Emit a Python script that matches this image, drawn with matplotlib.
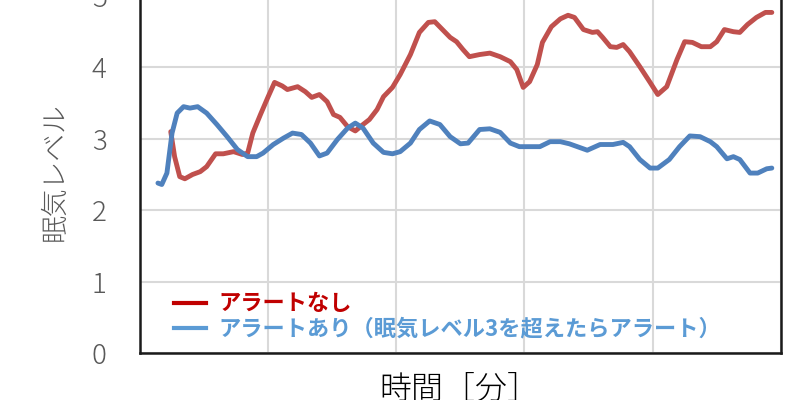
import matplotlib
matplotlib.use("Agg")
import matplotlib.pyplot as plt
from matplotlib.lines import Line2D

plt.rcParams["font.family"] = ["Noto Sans CJK JP", "DejaVu Sans"]

# 眠気レベル: アラートなし
t_none = [2.4, 2.7, 3.1, 3.5, 4.1, 4.7, 5.2, 5.9, 6.5, 7.3, 8.0, 8.4, 8.8, 9.4, 10.0,
          10.5, 11.1, 11.5, 12.3, 12.9, 13.4, 14.0, 14.6, 15.1, 15.6, 16.2, 16.8, 17.4,
          17.9, 18.5, 19.0, 19.7, 20.3, 21.1, 21.8, 22.5, 23.0, 23.6, 24.2, 24.7, 25.2,
          25.7, 26.5, 27.3, 28.1, 28.9, 29.4, 29.9, 30.4, 31.0, 31.4, 32.1, 32.8, 33.4,
          33.9, 34.6, 35.3, 35.7, 36.1, 36.7, 37.2, 37.7, 38.2, 39.0, 39.8, 40.4, 41.1,
          41.9, 42.5, 43.1, 43.8, 44.5, 45.0, 45.6, 46.3, 46.8, 47.4, 48.1, 48.8, 49.3]
v_none = [3.10, 2.75, 2.47, 2.44, 2.50, 2.54, 2.61, 2.79, 2.79, 2.82, 2.78, 2.80, 3.08,
          3.34, 3.59, 3.79, 3.74, 3.69, 3.73, 3.66, 3.58, 3.62, 3.52, 3.34, 3.30, 3.17,
          3.11, 3.20, 3.27, 3.41, 3.59, 3.72, 3.90, 4.18, 4.49, 4.63, 4.64, 4.53, 4.42,
          4.36, 4.25, 4.15, 4.18, 4.20, 4.15, 4.08, 3.97, 3.72, 3.80, 4.04, 4.35, 4.57,
          4.68, 4.73, 4.70, 4.53, 4.49, 4.50, 4.42, 4.29, 4.28, 4.32, 4.22, 4.01, 3.79,
          3.62, 3.73, 4.11, 4.36, 4.35, 4.29, 4.29, 4.36, 4.53, 4.50, 4.49, 4.60, 4.70,
          4.77, 4.77]

# 眠気レベル: アラートあり
t_alert = [1.4, 1.7, 2.1, 2.5, 2.9, 3.4, 3.9, 4.5, 5.2, 6.0, 6.8, 7.6, 8.4, 9.1, 9.6,
           10.4, 11.2, 11.9, 12.6, 13.3, 14.0, 14.6, 15.4, 16.2, 16.8, 17.4, 18.2, 19.0,
           19.7, 20.3, 21.1, 21.8, 22.6, 23.4, 24.2, 25.0, 25.6, 26.5, 27.3, 28.1, 28.9,
           29.6, 30.7, 31.2, 32.0, 32.8, 33.5, 34.9, 35.9, 36.9, 37.7, 38.2, 39.0, 39.8,
           40.4, 41.3, 42.1, 42.9, 43.7, 44.5, 45.0, 45.8, 46.3, 46.8, 47.6, 48.2, 48.9,
           49.3]
v_alert = [2.38, 2.36, 2.52, 3.08, 3.36, 3.45, 3.43, 3.45, 3.36, 3.20, 3.03, 2.85, 2.75,
           2.75, 2.80, 2.92, 3.01, 3.08, 3.06, 2.94, 2.76, 2.80, 2.99, 3.15, 3.22, 3.15,
           2.94, 2.81, 2.79, 2.82, 2.94, 3.13, 3.25, 3.20, 3.03, 2.93, 2.94, 3.13, 3.14,
           3.09, 2.94, 2.89, 2.89, 2.89, 2.96, 2.96, 2.93, 2.84, 2.92, 2.92, 2.95, 2.89,
           2.71, 2.59, 2.59, 2.71, 2.89, 3.04, 3.03, 2.96, 2.89, 2.72, 2.75, 2.71, 2.52,
           2.52, 2.58, 2.59]

y_ticks = [0, 1, 2, 3, 4, 5]
x_grid = [0, 10, 20, 30, 40, 50]
labels = ["アラートなし", "アラートあり（眠気レベル3を超えたらアラート）"]

fig = plt.figure(figsize=(8, 4), dpi=100)
ax = fig.add_axes([0.175, 0.1175, 0.801, 0.8925])

ax.plot(t_none, v_none, color="#C0504D", lw=3.5, solid_capstyle="round")
ax.plot(t_alert, v_alert, color="#4F81BD", lw=3.5, solid_capstyle="round")

ax.set_xlim(0, 50)
ax.set_ylim(0, 5)
ax.set_xticks(x_grid)
ax.set_xticklabels([])
ax.set_yticks(y_ticks)
ax.set_yticklabels([str(v) for v in y_ticks])
ax.tick_params(axis="both", length=0)
ax.tick_params(axis="y", pad=24, labelsize=20, labelcolor="#595959")
for lab in ax.get_yticklabels():
    lab.set_fontweight("light")
ax.grid(True, color="#D9D9D9", lw=1.5)
ax.set_axisbelow(True)
for s in ax.spines.values():
    s.set_linewidth(1.8)
    s.set_color("#1a1a1a")

handles = [Line2D([], [], color="#C00000", lw=3),
           Line2D([], [], color="#5B9BD5", lw=3)]
leg = ax.legend(handles, labels, loc="lower left", bbox_to_anchor=(0.053, 0.035),
                frameon=False, handlelength=1.45, handletextpad=0.55, labelspacing=0.1,
                borderaxespad=0, borderpad=0,
                prop={"family": ["Noto Sans CJK JP", "DejaVu Sans"], "weight": "bold", "size": 16})
for txt, c in zip(leg.get_texts(), ["#C00000", "#5B9BD5"]):
    txt.set_color(c)

fig.text(55 / 800, 0.57, "眠気レベル", rotation=90, ha="center", va="center",
         fontsize=20, color="#595959", fontweight="light")
fig.text(459 / 800, 0.07, "時間［分］", ha="center", va="top", fontsize=23, color="black",
         fontweight="light")

fig.savefig("out.png", dpi=100)
